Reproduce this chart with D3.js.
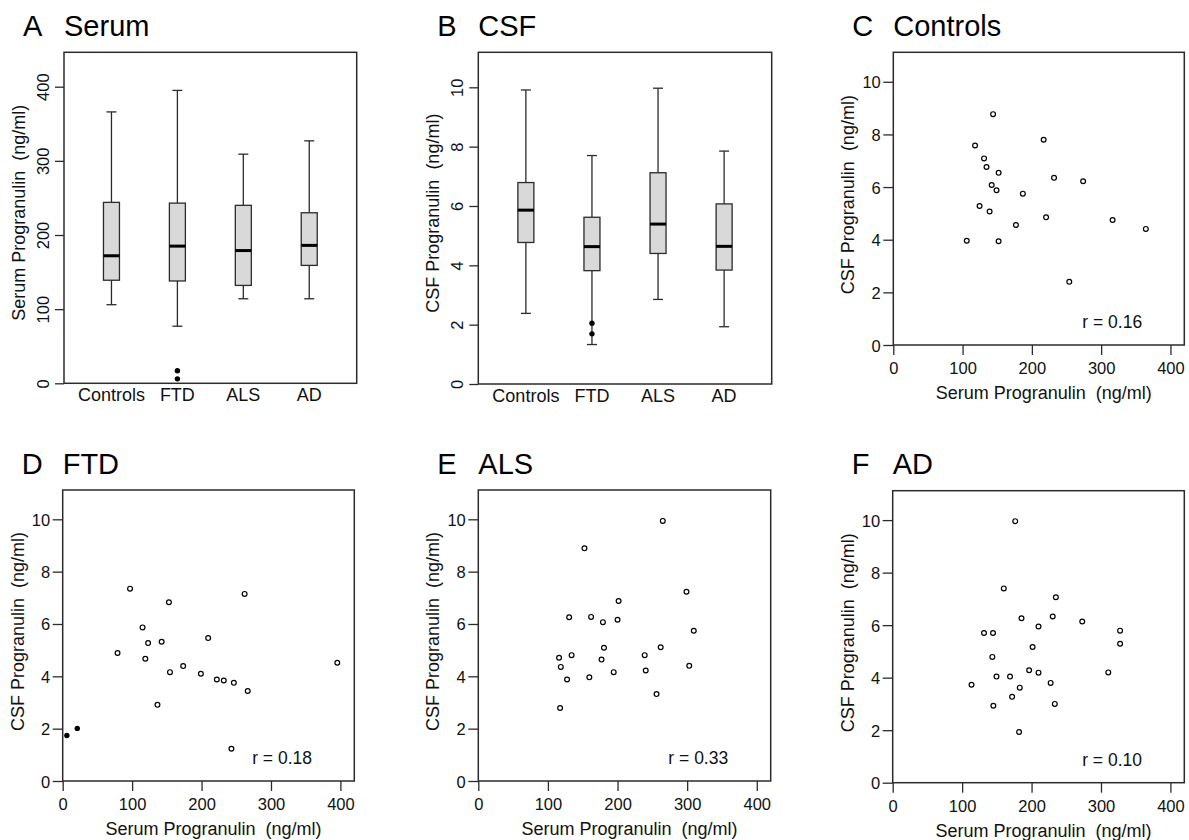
<!DOCTYPE html>
<html>
<head>
<meta charset="utf-8">
<script src="https://cdn.jsdelivr.net/npm/d3@7"></script>
<style>
  body { margin: 0; background: #fff; }
  svg { display: block; font-family: "Liberation Sans", Arial, Helvetica, sans-serif; }
  text { white-space: pre; }
</style>
</head>
<body>
<svg id="chart" width="1189" height="840"></svg>
<script>
// groups on the box plots
const groups = ["Controls", "FTD", "ALS", "AD"];

// box stats per group: [lower whisker, Q1, median, Q3, upper whisker]
const serumStats = [
    [106, 139, 172, 244, 366],
    [77, 138, 185, 243, 395],
    [114, 132, 179, 240, 309],
    [114, 159, 186, 230, 327]
];
const serumOutliers = [[], [6, 17], [], []];
const serumTicks = [0, 100, 200, 300, 400];

const csfStats = [
    [2.38, 4.77, 5.86, 6.79, 9.91],
    [1.33, 3.82, 4.63, 5.62, 7.70],
    [2.85, 4.40, 5.39, 7.12, 9.97],
    [1.93, 3.84, 4.64, 6.07, 7.85]
];
const csfOutliers = [[], [1.69, 2.05], [], []];
const csfTicks = [0, 2, 4, 6, 8, 10];

// scatter plots: [serum, csf]
const controlsPoints = [
    [144, 8.77], [118, 7.58], [217, 7.80], [131, 7.09], [134.5, 6.76], [152, 6.54],
    [232, 6.35], [274, 6.22], [142, 6.08], [149, 5.88], [187, 5.75], [124.5, 5.28],
    [139, 5.07], [220.5, 4.85], [316.5, 4.75], [364.5, 4.41], [177, 4.56], [106, 3.96],
    [152, 3.94], [254, 2.40]
];
const ftdPoints = [
    [97, 7.35], [262, 7.15], [153, 6.83], [115, 5.87], [209.5, 5.46], [123, 5.27],
    [142.5, 5.32], [79, 4.89], [119, 4.67], [395.5, 4.52], [173.5, 4.39], [154.5, 4.16],
    [199, 4.10], [222, 3.88], [232, 3.84], [246.5, 3.75], [266.5, 3.44], [136.5, 2.91],
    [243, 1.23]
];
const ftdOutlierPoints = [[6, 1.74], [21, 2.01]];
const alsPoints = [
    [265, 9.94], [152.5, 8.89], [299, 7.23], [201.5, 6.88], [130.5, 6.26], [162, 6.27],
    [179, 6.07], [200, 6.16], [309.5, 5.74], [180.5, 5.09], [262, 5.11], [134, 4.81],
    [239, 4.81], [116, 4.71], [177, 4.64], [118.5, 4.36], [303, 4.40], [240.5, 4.22],
    [194.5, 4.16], [159.5, 3.96], [127.5, 3.88], [256, 3.32], [117.5, 2.79]
];
const adPoints = [
    [176.5, 9.96], [160, 7.40], [235, 7.06], [185.5, 6.26], [230.5, 6.33], [273, 6.14],
    [210, 5.95], [131.5, 5.70], [144.5, 5.70], [327.5, 5.79], [327.5, 5.29], [201.5, 5.17],
    [143.5, 4.79], [196.5, 4.28], [210, 4.19], [310.5, 4.20], [149.5, 4.04], [169, 4.04],
    [113.5, 3.73], [227.5, 3.80], [183, 3.62], [172, 3.27], [145, 2.93], [233.5, 3.00],
    [182, 1.93]
];
const scatterXTicks = [0, 100, 200, 300, 400];
const scatterYTicks = [0, 2, 4, 6, 8, 10];

const svg = d3.select("#chart");
const ink = "#2b2b2b";

function title(x, y, letter, name) {
    svg.append("text").attr("x", x - 41).attr("y", y).attr("font-size", 29).text(letter);
    svg.append("text").attr("x", x).attr("y", y).attr("font-size", 29).text(name);
}

function styleAxis(g) {
    g.attr("font-size", null).attr("font-family", null);
    g.select(".domain").remove();
    g.selectAll(".tick line").attr("stroke", ink).attr("stroke-width", 1.3);
    g.selectAll(".tick text").attr("fill", "#111");
}

// **Box plot panel**
function drawBox(p) {
    const x = d3.scalePoint().domain(groups).range([p.left, p.right]).padding(0.72);
    const y = d3.scaleLinear().domain([0, p.yMax]).range([p.bottom, p.top]);
    const bw = 16, cap = 10;

    const yAxis = svg.append("g")
        .attr("transform", `translate(${p.left},0)`)
        .call(d3.axisLeft(y).tickValues(p.ticks).tickSize(9));
    styleAxis(yAxis);
    yAxis.selectAll(".tick text")
        .attr("x", null).attr("dy", null)
        .attr("font-size", 16.5)
        .attr("text-anchor", "middle")
        .attr("dominant-baseline", "central")
        .attr("transform", "translate(-21,0) rotate(-90)");

    const box = svg.append("g").selectAll("g")
        .data(groups.map((g, i) => ({ g, s: p.stats[i], out: p.outliers[i] })))
        .join("g");

    box.append("line")
        .attr("x1", d => x(d.g)).attr("x2", d => x(d.g))
        .attr("y1", d => y(d.s[0])).attr("y2", d => y(d.s[4]))
        .attr("stroke", ink).attr("stroke-width", 1.3);
    box.selectAll(".cap")
        .data(d => [d.s[0], d.s[4]].map(v => ({ g: d.g, v })))
        .join("line")
        .attr("x1", d => x(d.g) - cap / 2).attr("x2", d => x(d.g) + cap / 2)
        .attr("y1", d => y(d.v)).attr("y2", d => y(d.v))
        .attr("stroke", ink).attr("stroke-width", 1.3);
    box.append("rect")
        .attr("x", d => x(d.g) - bw / 2).attr("width", bw)
        .attr("y", d => y(d.s[3])).attr("height", d => y(d.s[1]) - y(d.s[3]))
        .attr("fill", "#d9d9d9").attr("stroke", ink).attr("stroke-width", 1.3);
    box.append("line")
        .attr("x1", d => x(d.g) - bw / 2).attr("x2", d => x(d.g) + bw / 2)
        .attr("y1", d => y(d.s[2])).attr("y2", d => y(d.s[2]))
        .attr("stroke", "#000").attr("stroke-width", 3);
    box.selectAll(".out")
        .data(d => d.out.map(v => ({ g: d.g, v })))
        .join("circle")
        .attr("cx", d => x(d.g)).attr("cy", d => y(d.v)).attr("r", 2.7)
        .attr("fill", "#000");

    svg.append("g").selectAll("text")
        .data(groups).join("text")
        .attr("x", d => x(d)).attr("y", p.bottom + 18)
        .attr("text-anchor", "middle").attr("font-size", 18).attr("fill", "#111")
        .text(d => d);

    svg.append("rect")
        .attr("x", p.left).attr("y", p.top)
        .attr("width", p.right - p.left).attr("height", p.bottom - p.top)
        .attr("fill", "none").attr("stroke", ink).attr("stroke-width", 1.5);

    svg.append("text")
        .attr("transform", `translate(${p.left - 45},${(p.top + p.bottom) / 2 - 5}) rotate(-90)`)
        .attr("text-anchor", "middle").attr("dominant-baseline", "central")
        .attr("font-size", 18).attr("fill", "#111")
        .text(p.yTitle);

    title(p.left, 35.5, p.letter, p.name);
}

// **Scatter panel**
function drawScatter(p) {
    const x = d3.scaleLinear().domain([0, 420]).range([p.left, p.right]);
    const y = d3.scaleLinear().domain([0, 11.12]).range([p.bottom, p.top]);

    const yAxis = svg.append("g")
        .attr("transform", `translate(${p.left},0)`)
        .call(d3.axisLeft(y).tickValues(scatterYTicks).tickSize(10));
    styleAxis(yAxis);
    yAxis.selectAll(".tick text")
        .attr("x", -12.5).attr("dy", null)
        .attr("font-size", 16.5)
        .attr("dominant-baseline", "central");

    const xAxis = svg.append("g")
        .attr("transform", `translate(0,${p.bottom})`)
        .call(d3.axisBottom(x).tickValues(scatterXTicks).tickSize(10));
    styleAxis(xAxis);
    xAxis.selectAll(".tick text")
        .attr("y", 23).attr("dy", null)
        .attr("font-size", 16.5)
        .attr("dominant-baseline", "central");

    svg.append("rect")
        .attr("x", p.left).attr("y", p.top)
        .attr("width", p.right - p.left).attr("height", p.bottom - p.top)
        .attr("fill", "none").attr("stroke", ink).attr("stroke-width", 1.5);

    svg.append("g").selectAll("circle")
        .data(p.points).join("circle")
        .attr("cx", d => x(d[0])).attr("cy", d => y(d[1])).attr("r", 2.4)
        .attr("fill", "#fff").attr("stroke", "#000").attr("stroke-width", 1.2);

    svg.append("g").selectAll("circle")
        .data(p.filled || []).join("circle")
        .attr("cx", d => x(d[0])).attr("cy", d => y(d[1])).attr("r", 2.7)
        .attr("fill", "#000");

    svg.append("text")
        .attr("x", x(316)).attr("y", y(0.88))
        .attr("text-anchor", "middle").attr("dominant-baseline", "central")
        .attr("font-size", 17.5).attr("fill", "#111")
        .text(p.r);

    svg.append("text")
        .attr("x", (p.left + p.right) / 2 + 5).attr("y", p.bottom + 48)
        .attr("text-anchor", "middle").attr("dominant-baseline", "central")
        .attr("font-size", 18).attr("fill", "#111")
        .text("Serum Progranulin  (ng/ml)");

    svg.append("text")
        .attr("transform", `translate(${p.left - 45},${(p.top + p.bottom) / 2 - 4}) rotate(-90)`)
        .attr("text-anchor", "middle").attr("dominant-baseline", "central")
        .attr("font-size", 18).attr("fill", "#111")
        .text("CSF Progranulin  (ng/ml)");

    title(p.left, p.titleY, p.letter, p.name);
}

svg.append("rect").attr("width", 1189).attr("height", 840).attr("fill", "#fff").lower();

drawBox({ left: 64, right: 356.7, top: 52.3, bottom: 383.3, yMax: 446.4,
    ticks: serumTicks, stats: serumStats, outliers: serumOutliers,
    yTitle: "Serum Progranulin  (ng/ml)", letter: "A", name: "Serum" });
drawBox({ left: 478.3, right: 771.7, top: 52.3, bottom: 384, yMax: 11.18,
    ticks: csfTicks, stats: csfStats, outliers: csfOutliers,
    yTitle: "CSF Progranulin  (ng/ml)", letter: "B", name: "CSF" });

drawScatter({ left: 893.3, right: 1184.3, top: 52.3, bottom: 345, titleY: 35.5,
    points: controlsPoints, r: "r = 0.16", letter: "C", name: "Controls" });
drawScatter({ left: 62.7, right: 354.3, top: 490, bottom: 781, titleY: 474.3,
    points: ftdPoints, filled: ftdOutlierPoints, r: "r = 0.18", letter: "D", name: "FTD" });
drawScatter({ left: 478.3, right: 770.7, top: 490, bottom: 781, titleY: 474.3,
    points: alsPoints, r: "r = 0.33", letter: "E", name: "ALS" });
drawScatter({ left: 892.7, right: 1184.3, top: 490.7, bottom: 782.7, titleY: 474.3,
    points: adPoints, r: "r = 0.10", letter: "F", name: "AD" });
</script>
</body>
</html>
